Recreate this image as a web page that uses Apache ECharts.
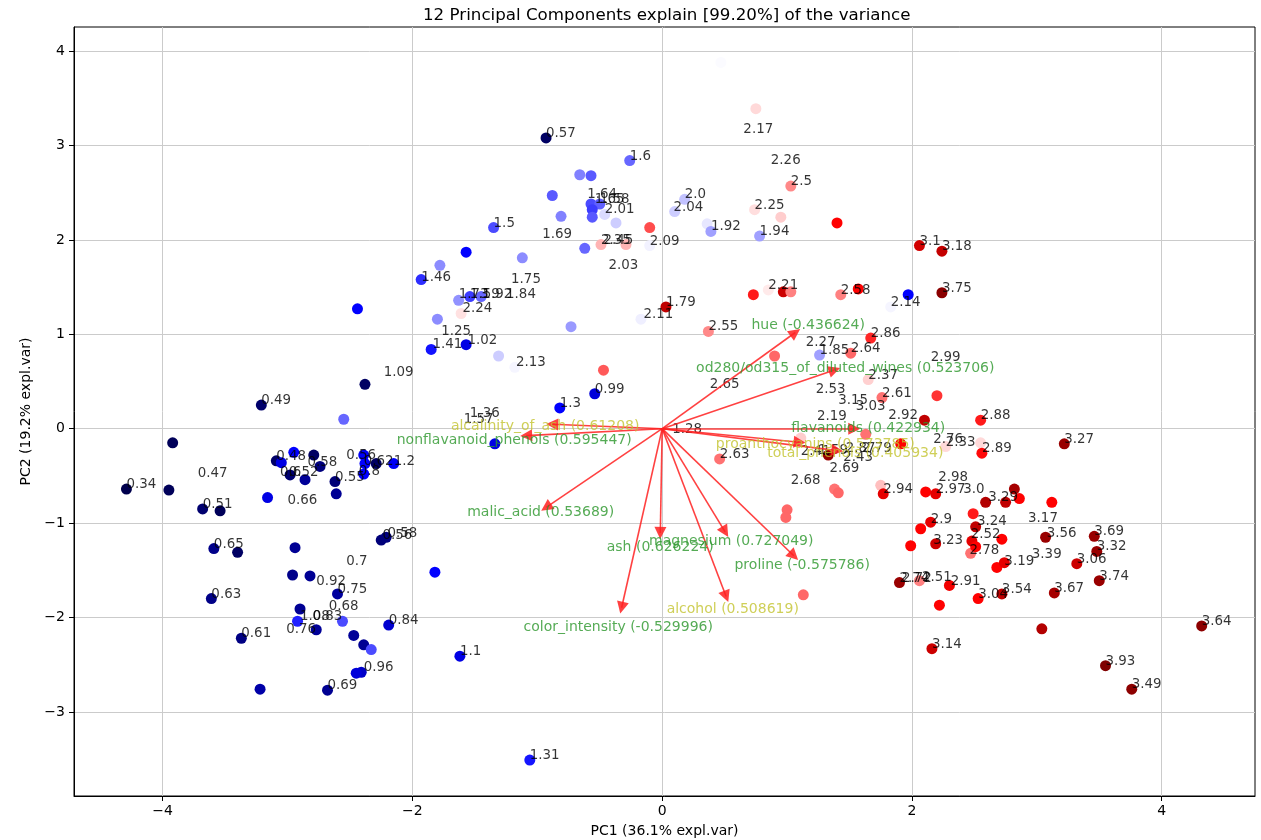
<!DOCTYPE html>
<html>
<head>
<meta charset="utf-8">
<script src="https://cdn.jsdelivr.net/npm/echarts@6/dist/echarts.min.js"></script>
<style>html,body{margin:0;padding:0;background:#fff}#c{width:1261px;height:840px}</style>
</head>
<body>
<div id="c"></div>
<script>
// ---- scores (PC1, PC2) of the samples and the value used for their colour ----
const pc1 = [-4.29,-3.95,-3.92,-3.21,-3.68,-3.54,-3.16,-3.09,-3.05,-2.95,-2.79,-2.74,-2.98,-2.86,-2.62,-2.61,-2.39,-2.38,-2.39,-2.29,-2.15,-2.44,-2.38,-2.55,
-3.59,-3.40,-2.94,-2.96,-2.82,-2.60,-3.61,-2.90,-2.92,-2.77,-2.56,-2.47,-2.39,-2.33,-3.37,-2.41,-2.45,-3.22,-2.68,-2.25,-2.21,-1.82,-2.19,-1.62,-1.06,
-0.93,-0.26,-0.66,-0.57,-0.88,-0.57,-0.50,-0.56,-0.56,-0.46,-0.37,-0.81,-1.35,-0.10,-0.62,-0.49,-0.29,-0.10,-1.57,-1.78,-1.12,-1.93,-1.63,-1.54,-1.45,-1.61,-1.80,-0.73,-0.17,0.03,-1.85,-1.57,-1.31,-1.18,-0.47,-0.54,-0.82,-1.34,
0.47,0.75,1.03,0.18,0.10,0.36,0.39,0.74,0.95,1.40,0.78,2.06,2.24,0.85,0.73,0.97,1.03,1.43,1.57,1.97,1.83,2.24,0.37,1.67,1.26,1.51,0.90,1.65,2.20,1.76,2.10,1.63,1.11,1.91,2.27,1.33,0.46,1.38,1.41,1.75,1.77,2.11,2.19,1.00,0.99,2.49,2.15,2.07,1.99,2.19,1.90,2.06,2.30,2.22,1.13,2.16,
2.55,2.55,2.56,3.22,2.82,2.86,2.75,2.59,3.12,3.07,3.46,2.51,2.72,2.48,2.47,2.51,3.48,3.32,2.68,2.74,2.53,2.72,3.14,3.50,3.04,4.32,3.55,3.76];
const pc2 = [-0.64,-0.65,-0.15,0.25,-0.85,-0.87,-0.73,-0.34,-0.36,-0.25,-0.28,-0.40,-0.49,-0.54,-0.56,-0.69,-0.28,-0.37,-0.48,-0.37,-0.37,1.27,0.47,0.10,
-1.27,-1.31,-1.26,-1.55,-1.56,-1.75,-1.80,-1.91,-2.04,-2.13,-2.04,-2.19,-2.29,-2.34,-2.22,-2.58,-2.59,-2.76,-2.77,-1.18,-1.15,-1.52,-2.08,-2.41,-3.51,
3.08,2.84,2.69,2.68,2.47,2.38,2.38,2.32,2.24,2.27,2.18,2.25,2.13,2.13,1.91,1.95,1.95,1.94,1.87,1.73,1.81,1.58,1.36,1.40,1.40,1.22,1.16,1.08,1.16,1.29,0.84,0.89,0.77,0.65,0.62,0.37,0.22,-0.16,
3.88,3.39,2.57,2.43,2.30,2.17,2.09,2.32,2.24,2.18,2.04,1.94,1.88,1.47,1.42,1.45,1.45,1.42,1.48,1.42,1.29,1.44,1.03,0.96,0.78,0.80,0.77,0.52,0.35,0.33,0.09,-0.06,-0.10,-0.16,-0.19,-0.28,-0.32,-0.64,-0.68,-0.60,-0.69,-0.67,-0.69,-0.86,-0.94,-0.90,-0.99,-1.06,-1.24,-1.22,-1.63,-1.61,-1.66,-1.87,-1.76,-2.33,
0.09,-0.15,-0.26,-0.16,-0.64,-0.74,-0.78,-0.78,-0.78,-1.15,-1.14,-1.04,-1.17,-1.19,-1.32,-1.25,-1.30,-1.43,-1.47,-1.42,-1.80,-1.75,-1.74,-1.61,-2.12,-2.09,-2.51,-2.76];
const shade = [0.34,0.40,0.40,0.49,0.51,0.40,1.10,0.48,1.10,1.24,0.45,0.58,0.52,0.72,0.55,0.70,1.20,1.24,1.24,0.45,1.20,1.24,0.45,1.60,
0.65,0.45,0.70,0.65,0.70,0.75,0.63,0.70,1.35,0.72,1.50,0.72,0.70,1.50,0.61,0.96,1.05,0.80,0.69,0.56,0.58,1.24,1.00,1.10,1.31,
0.45,1.60,1.69,1.55,1.55,1.50,1.58,1.45,1.55,2.01,1.96,1.69,1.50,2.76,1.60,2.40,2.40,2.09,1.24,1.73,1.73,1.40,1.75,1.45,1.60,2.24,1.73,1.78,2.08,3.48,1.30,1.10,1.96,2.10,2.72,1.05,1.24,1.10,
2.12,2.27,2.55,1.92,1.96,2.05,1.80,2.25,2.31,3.03,1.80,3.35,3.45,2.21,2.94,3.39,2.58,2.58,3.03,1.24,2.10,3.85,2.55,2.90,1.80,2.67,2.67,2.30,2.85,2.63,3.48,2.63,2.31,3.03,2.27,3.75,2.63,2.63,2.67,2.36,3.21,3.03,3.21,2.67,2.67,2.94,3.21,3.03,3.03,3.39,3.75,2.58,3.12,3.03,2.67,3.39,
2.94,2.27,3.00,3.75,3.66,3.03,3.48,3.57,3.03,3.75,3.75,3.48,3.03,3.21,2.63,3.03,3.75,3.39,3.03,3.21,3.03,3.48,3.66,3.75,3.57,3.84,3.93,3.84];

// ---- number labels written on the plot ----
const lblX = [-4.29,-3.21,-3.68,-3.72,-3.09,-2.84,-3.06,-2.99,-2.62,-3.00,-2.53,-2.39,-2.15,-2.43,-2.23,
-3.59,-2.77,-2.53,-2.60,-3.61,-2.90,-2.80,-3.01,-2.67,-3.37,-2.39,-2.68,-2.24,-2.20,-2.19,-1.62,-1.06,
-0.93,-0.26,-0.60,-0.54,-0.50,-0.46,-1.35,-0.96,-0.49,-0.47,-0.10,-0.43,-1.93,-1.21,-1.63,-1.54,-1.44,-1.25,-1.60,-0.15,0.03,-1.77,-1.84,-1.56,-1.17,-0.54,-0.82,-1.54,-1.59,
0.65,0.87,1.03,0.18,0.09,0.39,0.74,0.78,2.06,2.24,0.85,1.43,1.83,2.24,0.37,1.67,1.15,1.26,1.51,2.15,1.65,0.38,1.23,1.76,1.41,1.55,1.24,1.81,0.08,2.17,2.27,1.11,1.25,1.47,1.60,1.45,1.34,0.46,1.03,1.77,2.21,2.19,2.41,2.61,2.15,2.17,1.90,1.92,2.08,2.31,2.16,
2.55,2.56,3.22,2.93,2.52,3.08,3.46,2.47,2.46,3.48,3.32,2.96,2.74,2.53,2.72,3.14,3.50,4.32,3.55,3.76];
const lblY = [-0.64,0.25,-0.85,-0.52,-0.34,-0.41,-0.51,-0.51,-0.56,-0.81,-0.33,-0.40,-0.40,-0.50,0.55,
-1.27,-1.67,-1.45,-1.75,-1.80,-2.04,-2.04,-2.17,-1.93,-2.22,-2.58,-2.77,-1.18,-1.16,-2.08,-2.41,-3.51,
3.08,2.84,2.43,2.38,2.38,2.27,2.13,2.01,1.95,1.95,1.94,1.68,1.55,1.53,1.37,1.37,1.37,1.37,1.22,1.16,1.29,0.98,0.84,0.89,0.65,0.37,0.22,0.11,0.05,
3.12,2.79,2.57,2.43,2.30,2.09,2.32,2.04,1.94,1.88,1.47,1.42,1.29,1.44,1.03,0.96,0.87,0.78,0.80,0.71,0.52,0.42,0.37,0.33,0.25,0.19,0.08,0.09,-0.06,-0.16,-0.19,-0.29,-0.28,-0.26,-0.26,-0.35,-0.47,-0.32,-0.60,-0.69,-0.56,-0.69,-0.69,-0.78,-1.01,-1.23,-1.63,-1.63,-1.62,-1.67,-2.33,
0.09,-0.26,-0.16,-1.00,-1.03,-1.16,-1.14,-1.17,-1.34,-1.30,-1.43,-1.38,-1.45,-1.80,-1.75,-1.74,-1.61,-2.09,-2.51,-2.76];
const lblText = ["0.34","0.49","0.51","0.47","0.48","0.58","0.6","0.52","0.55","0.66","0.56","0.62","1.2","0.8","1.09",
"0.65","0.92","0.7","0.75","0.63","1.08","0.83","0.76","0.68","0.61","0.96","0.69","0.56","0.58","0.84","1.1","1.31",
"0.57","1.6","1.64","1.65","1.58","2.01","1.5","1.69","2.35","2.45","2.09","2.03","1.46","1.75","1.73","1.59","1.92","1.84","2.24","2.11","1.79","1.25","1.41","1.02","2.13","0.99","1.3","1.36","1.57",
"2.17","2.26","2.5","2.0","2.04","1.92","2.25","1.94","3.1","3.18","2.21","2.58","2.14","3.75","2.55","2.86","2.27","1.85","2.64","2.99","2.37","2.65","2.53","2.61","3.15","3.03","2.19","2.92","1.28","2.76","2.33","2.41","1.59","2.87","2.79","2.43","2.69","2.63","2.68","2.94","2.98","2.97","3.0","3.29","2.9","3.23","2.74","2.72","2.51","2.91","3.14",
"2.88","2.89","3.27","3.17","3.24","3.56","3.69","2.52","2.78","3.32","3.06","3.39","3.19","3.04","3.54","3.67","3.74","3.64","3.93","3.49"];

// ---- loadings (arrows) ----
const featureNames = ["hue","od280/od315_of_diluted_wines","flavanoids","proanthocyanins","total_phenols","alcalinity_of_ash","nonflavanoid_phenols","malic_acid","ash","magnesium","proline","alcohol","color_intensity"];
const featureValues = [-0.436624,0.523706,0.422934,0.573785,0.405934,0.61208,0.595447,0.53689,0.626224,0.727049,-0.575786,0.508619,-0.529996];
const loadX = [1.066,1.380,1.538,1.100,1.402,-0.881,-1.089,-0.929,-0.015,0.504,1.054,0.512,-0.325];
const loadY = [1.019,0.622,0.000,-0.144,-0.232,0.047,-0.074,-0.834,-1.104,-1.093,-1.346,-1.777,-1.897];
const textX = [1.169,1.466,1.650,1.226,1.546,-0.937,-1.185,-0.973,-0.016,0.553,1.121,0.565,-0.352];
const textY = [1.099,0.643,0.007,-0.162,-0.258,0.029,-0.120,-0.890,-1.253,-1.189,-1.443,-1.919,-2.101];
const yellowFeatures = ["proanthocyanins","total_phenols","alcalinity_of_ash","alcohol"];

const FONT = "DejaVu Sans";
const minus = v => (v < 0 ? "\u2212" + (-v) : String(v));

const chart = echarts.init(document.getElementById('c'), null, {renderer: 'canvas'});
chart.setOption({
  animation: false,
  backgroundColor: '#ffffff',
  title: {
    text: '12 Principal Components explain [99.20%] of the variance',
    left: 418, top: 2,
    textStyle: {fontFamily: FONT, fontSize: 16.7, fontWeight: 'normal', color: '#000'}
  },
  grid: {left: 74, right: 6, top: 27, bottom: 44, show: true, borderColor: '#000', borderWidth: 1, backgroundColor: 'transparent', outerBoundsMode: 'none'},
  xAxis: {
    type: 'value', min: -4.71, max: 4.747, splitNumber: 5,
    name: 'PC1 (36.1% expl.var)', nameLocation: 'middle', nameGap: 28,
    nameTextStyle: {fontFamily: FONT, fontSize: 14, color: '#000'},
    axisLine: {show: true, onZero: false, lineStyle: {color: '#000', width: 1}},
    axisTick: {show: true, inside: false, length: 5, lineStyle: {color: '#000'}},
    axisLabel: {fontFamily: FONT, fontSize: 14, color: '#000', margin: 8, showMinLabel: false, showMaxLabel: false, formatter: minus},
    splitLine: {show: true, showMinLine: false, showMaxLine: false, lineStyle: {color: '#cbcbcb', width: 1}}
  },
  yAxis: {
    type: 'value', min: -3.891, max: 4.255, splitNumber: 8,
    name: 'PC2 (19.2% expl.var)', nameLocation: 'middle', nameGap: 39, nameRotate: 90,
    nameTextStyle: {fontFamily: FONT, fontSize: 14, color: '#000'},
    axisLine: {show: true, onZero: false, lineStyle: {color: '#000', width: 1}},
    axisTick: {show: true, inside: false, length: 5, lineStyle: {color: '#000'}},
    axisLabel: {fontFamily: FONT, fontSize: 14, color: '#000', margin: 9, showMinLabel: false, showMaxLabel: false, formatter: minus},
    splitLine: {show: true, showMinLine: false, showMaxLine: false, lineStyle: {color: '#cbcbcb', width: 1}}
  },
  visualMap: {
    type: 'continuous', show: false, seriesIndex: 0, dimension: 2,
    min: 0.34, max: 3.93,
    inRange: {color: ['#00004d', '#0000ff', '#ffffff', '#ff0000', '#800000']}
  },
  series: [
    {
      type: 'scatter', symbol: 'circle', symbolSize: 11,
      data: pc1.map((x, i) => [x, pc2[i], shade[i]]),
      itemStyle: {opacity: 1}, z: 2
    },
    {
      type: 'scatter', symbol: 'circle', symbolSize: 1,
      data: lblX.map((x, i) => [x, lblY[i], lblText[i]]),
      itemStyle: {color: 'rgba(0,0,0,0)'},
      label: {
        show: true, position: 'inside', align: 'left', verticalAlign: 'middle', offset: [0, -4.5],
        fontFamily: FONT, fontSize: 13.4, color: '#000',
        formatter: p => p.value[2]
      },
      z: 3
    },
    {
      type: 'lines', coordinateSystem: 'cartesian2d',
      symbol: ['none', 'triangle'], symbolSize: 12,
      lineStyle: {color: '#ff2020', width: 1.6, opacity: 0.85, curveness: 0},
      data: featureNames.map((n, i) => ({coords: [[0, 0], [loadX[i], loadY[i]]]})),
      z: 4
    },
    {
      type: 'scatter', symbol: 'circle', symbolSize: 1,
      itemStyle: {color: 'rgba(0,0,0,0)'},
      data: featureNames.map((n, i) => ({
        value: [textX[i], textY[i]],
        name: n + ' (' + featureValues[i] + ')',
        label: {color: yellowFeatures.includes(n) ? '#c3c32e' : '#2b962b'}
      })),
      label: {
        show: true, position: 'inside', align: 'center', verticalAlign: 'middle',
        fontFamily: FONT, fontSize: 14, formatter: p => p.name
      },
      z: 5
    }
  ]
});
</script>
</body>
</html>
